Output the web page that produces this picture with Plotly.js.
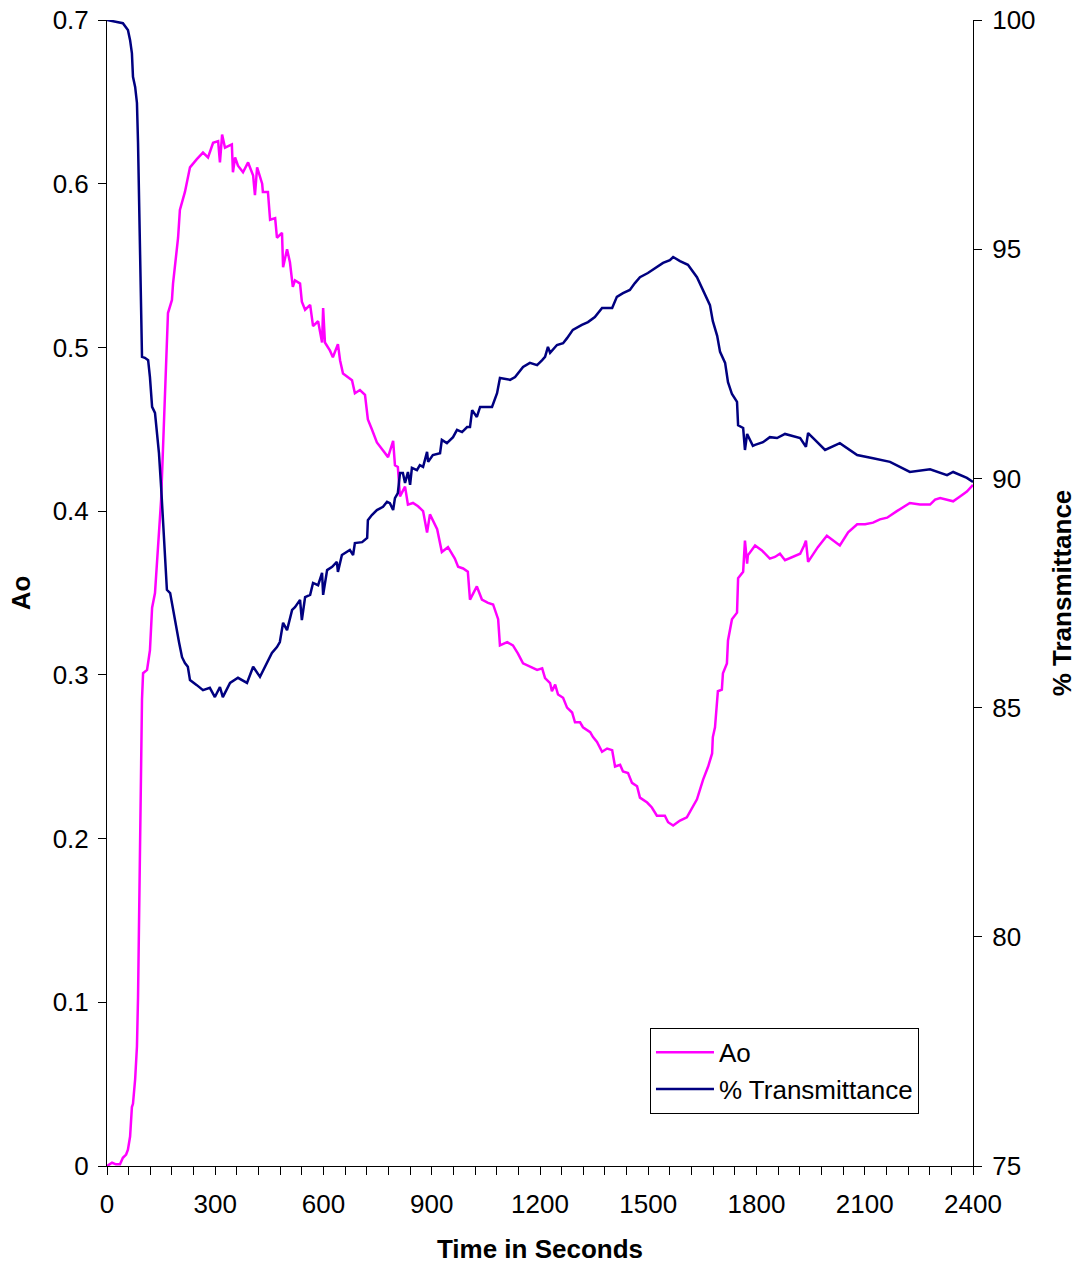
<!DOCTYPE html>
<html>
<head>
<meta charset="utf-8">
<script src="https://cdn.plot.ly/plotly-3.0.1.min.js"></script>
<style>html,body{margin:0;padding:0;background:#fff}#chart{width:1077px;height:1265px}</style>
</head>
<body>
<div id="chart"></div>
<script>
// Time in seconds and Ao values
var aoTime = [
  0, 14, 25, 36, 44, 53, 58, 64, 69, 72,
  78, 83, 86, 89, 91, 94, 97, 100, 111, 119,
  125, 133, 141, 150, 155, 161, 166, 169, 180, 183,
  197, 202, 216, 230, 249, 266, 280, 294, 308, 313,
  319, 327, 346, 349, 355, 363, 377, 391, 405, 410,
  416, 430, 432, 446, 452, 466, 471, 485, 488, 499,
  507, 515, 521, 535, 540, 549, 563, 571, 585, 596,
  599, 604, 618, 626, 640, 646, 654, 668, 679, 687,
  701, 715, 723, 734, 748, 765, 779, 793, 798, 806,
  812, 826, 834, 848, 862, 876, 887, 895, 915, 928,
  945, 964, 973, 987, 1000, 1006, 1025, 1039, 1056, 1070,
  1084, 1089, 1109, 1125, 1139, 1153, 1172, 1192, 1206, 1214,
  1228, 1233, 1242, 1250, 1264, 1275, 1289, 1297, 1311, 1319,
  1339, 1347, 1358, 1372, 1386, 1400, 1408, 1422, 1430, 1444,
  1455, 1469, 1477, 1497, 1510, 1524, 1546, 1555, 1569, 1588,
  1607, 1621, 1635, 1652, 1666, 1677, 1679, 1685, 1693, 1704,
  1707, 1718, 1721, 1732, 1746, 1749, 1763, 1768, 1774, 1776,
  1796, 1815, 1837, 1851, 1865, 1879, 1901, 1921, 1932, 1937,
  1943, 1954, 1970, 1995, 2012, 2031, 2054, 2079, 2101, 2123,
  2142, 2162, 2189, 2225, 2253, 2281, 2295, 2309, 2328, 2345,
  2364, 2383, 2400
];
var aoValue = [
  0, 0.002, 0.001, 0.001, 0.005, 0.007, 0.010, 0.018, 0.036, 0.038,
  0.053, 0.073, 0.103, 0.156, 0.162, 0.224, 0.285, 0.301, 0.303, 0.315,
  0.341, 0.350, 0.374, 0.407, 0.437, 0.476, 0.509, 0.521, 0.529, 0.539,
  0.567, 0.584, 0.595, 0.610, 0.615, 0.619, 0.616, 0.625, 0.626, 0.613,
  0.630, 0.622, 0.624, 0.607, 0.616, 0.611, 0.607, 0.613, 0.605, 0.593,
  0.610, 0.600, 0.595, 0.595, 0.578, 0.579, 0.567, 0.570, 0.549, 0.560,
  0.552, 0.537, 0.541, 0.539, 0.528, 0.523, 0.526, 0.513, 0.516, 0.503,
  0.524, 0.503, 0.498, 0.494, 0.502, 0.492, 0.484, 0.482, 0.480, 0.472,
  0.474, 0.471, 0.456, 0.450, 0.442, 0.437, 0.433, 0.443, 0.428, 0.427,
  0.409, 0.415, 0.404, 0.405, 0.403, 0.400, 0.387, 0.398, 0.389, 0.375,
  0.378, 0.371, 0.366, 0.365, 0.363, 0.346, 0.354, 0.346, 0.344, 0.343,
  0.334, 0.318, 0.320, 0.318, 0.313, 0.307, 0.305, 0.303, 0.304, 0.298,
  0.295, 0.290, 0.294, 0.288, 0.286, 0.280, 0.277, 0.271, 0.271, 0.268,
  0.265, 0.262, 0.259, 0.253, 0.255, 0.254, 0.244, 0.245, 0.241, 0.240,
  0.234, 0.232, 0.225, 0.222, 0.219, 0.214, 0.214, 0.210, 0.208, 0.211,
  0.213, 0.219, 0.224, 0.236, 0.244, 0.252, 0.262, 0.268, 0.290, 0.291,
  0.301, 0.307, 0.321, 0.334, 0.338, 0.359, 0.363, 0.382, 0.368, 0.373,
  0.379, 0.376, 0.371, 0.372, 0.374, 0.370, 0.372, 0.374, 0.379, 0.382,
  0.369, 0.373, 0.378, 0.385, 0.382, 0.379, 0.387, 0.392, 0.392, 0.393,
  0.395, 0.396, 0.400, 0.405, 0.404, 0.404, 0.407, 0.408, 0.407, 0.406,
  0.409, 0.412, 0.416
];

// Time in seconds and % Transmittance values
var tTime = [
  0, 28, 44, 58, 64, 69, 72, 78, 83, 86,
  89, 91, 94, 97, 105, 114, 119, 125, 133, 139,
  144, 150, 155, 161, 166, 175, 183, 188, 194, 200,
  208, 216, 224, 230, 249, 266, 285, 299, 313, 321,
  341, 363, 388, 405, 424, 443, 457, 471, 479, 488,
  499, 513, 521, 535, 540, 549, 563, 571, 585, 596,
  599, 610, 624, 637, 640, 651, 673, 682, 687, 707,
  721, 723, 734, 748, 765, 776, 784, 793, 798, 806,
  812, 820, 826, 834, 840, 845, 859, 867, 876, 887,
  890, 903, 923, 928, 942, 959, 970, 984, 998, 1006,
  1012, 1025, 1034, 1067, 1081, 1089, 1117, 1131, 1153, 1172,
  1192, 1206, 1214, 1222, 1228, 1247, 1264, 1275, 1291, 1316,
  1333, 1352, 1372, 1400, 1413, 1430, 1449, 1463, 1477, 1499,
  1524, 1541, 1560, 1569, 1588, 1610, 1635, 1652, 1671, 1679,
  1691, 1699, 1713, 1721, 1732, 1746, 1749, 1763, 1768, 1774,
  1790, 1796, 1818, 1837, 1857, 1879, 1921, 1937, 1943, 1962,
  1990, 2031, 2079, 2123, 2170, 2225, 2281, 2328, 2345, 2383,
  2400
];
var tValue = [
  100.00, 99.96, 99.93, 99.78, 99.56, 99.28, 98.76, 98.54, 98.19, 97.32,
  95.86, 95.48, 93.67, 92.65, 92.63, 92.58, 92.21, 91.56, 91.43, 90.90,
  90.55, 89.81, 89.09, 88.50, 87.57, 87.50, 87.13, 86.98, 86.63, 86.41,
  86.10, 85.97, 85.89, 85.60, 85.49, 85.38, 85.43, 85.23, 85.45, 85.23,
  85.54, 85.65, 85.54, 85.89, 85.67, 85.97, 86.19, 86.32, 86.43, 86.85,
  86.69, 87.13, 87.19, 87.35, 86.91, 87.41, 87.46, 87.72, 87.67, 87.94,
  87.46, 88.00, 88.07, 88.18, 87.96, 88.33, 88.44, 88.33, 88.59, 88.61,
  88.70, 89.09, 89.20, 89.31, 89.38, 89.49, 89.46, 89.31, 89.57, 89.68,
  90.12, 90.12, 89.90, 90.14, 89.86, 90.23, 90.18, 90.29, 90.25, 90.58,
  90.36, 90.51, 90.55, 90.84, 90.77, 90.90, 91.06, 91.01, 91.12, 91.12,
  91.49, 91.34, 91.56, 91.56, 91.86, 92.19, 92.15, 92.21, 92.43, 92.52,
  92.47, 92.58, 92.65, 92.87, 92.74, 92.91, 92.95, 93.06, 93.24, 93.35,
  93.41, 93.52, 93.72, 93.72, 93.96, 94.04, 94.11, 94.26, 94.39, 94.48,
  94.61, 94.70, 94.76, 94.83, 94.74, 94.66, 94.39, 94.11, 93.78, 93.43,
  93.11, 92.76, 92.52, 92.10, 91.84, 91.67, 91.16, 91.10, 90.62, 90.97,
  90.71, 90.73, 90.79, 90.90, 90.88, 90.97, 90.88, 90.69, 90.99, 90.84,
  90.62, 90.77, 90.51, 90.44, 90.36, 90.14, 90.20, 90.07, 90.14, 90.01,
  89.92
];

var seriesNames = ['Ao', '% Transmittance'];
var xTitle = 'Time in Seconds';
var yTitle = 'Ao';
var y2Title = '% Transmittance';

var FONT = 'Liberation Sans, Arial, sans-serif';

var traces = [
  {x: aoTime, y: aoValue, name: seriesNames[0], type: 'scatter', mode: 'lines',
   line: {color: '#FF00FF', width: 2.5}, xaxis: 'x', yaxis: 'y'},
  {x: tTime, y: tValue, name: seriesNames[1], type: 'scatter', mode: 'lines',
   line: {color: '#000080', width: 2.5}, xaxis: 'x', yaxis: 'y2'}
];

var baseAx = {showgrid: false, zeroline: false, tickcolor: '#000', tickwidth: 1, ticklen: 8, automargin: false};

var layout = {
  width: 1077, height: 1265,
  margin: {l: 107, r: 104, t: 20, b: 99, pad: 0},
  paper_bgcolor: '#fff', plot_bgcolor: '#fff',
  font: {family: FONT, size: 26, color: '#000'},
  hovermode: false,
  showlegend: true,
  legend: {x: 0.627, y: 0.1205, xanchor: 'left', yanchor: 'top',
           bgcolor: '#fff', bordercolor: '#000', borderwidth: 1, itemwidth: 58,
           font: {family: FONT, size: 26, color: '#000'}},
  xaxis: Object.assign({}, baseAx, {
    range: [0, 2400], tickmode: 'linear', tick0: 0, dtick: 300, ticks: 'outside',
    minor: {dtick: 60, tick0: 0, ticks: 'outside', ticklen: 8, tickcolor: '#000', tickwidth: 1, showgrid: false},
    showline: true, linecolor: '#000', linewidth: 1, ticklabelstandoff: 7,
    tickfont: {family: FONT, size: 26, color: '#000'},
    title: {text: xTitle, font: {family: FONT, size: 26, color: '#000', weight: 'bold'}, standoff: 21}
  }),
  xaxis2: Object.assign({}, baseAx, {
    overlaying: 'x', anchor: 'y', side: 'bottom',
    range: [0, 2400], tickmode: 'linear', tick0: 0, dtick: 60, ticks: 'inside',
    showticklabels: false, showline: false
  }),
  yaxis: Object.assign({}, baseAx, {
    range: [0, 0.7], tickmode: 'linear', tick0: 0, dtick: 0.1, ticks: 'outside',
    showline: true, linecolor: '#000', linewidth: 1, ticklabelstandoff: 4,
    tickfont: {family: FONT, size: 26, color: '#000'},
    title: {text: yTitle, font: {family: FONT, size: 26, color: '#000', weight: 'bold'}, standoff: 14}
  }),
  yaxis3: Object.assign({}, baseAx, {
    overlaying: 'y', anchor: 'x', side: 'left',
    range: [0, 0.7], tickmode: 'linear', tick0: 0, dtick: 0.1, ticks: 'inside',
    showticklabels: false, showline: false
  }),
  yaxis2: Object.assign({}, baseAx, {
    overlaying: 'y', anchor: 'x', side: 'right',
    range: [75, 100], tickmode: 'linear', tick0: 75, dtick: 5, ticks: 'outside',
    showline: true, linecolor: '#000', linewidth: 1, ticklabelstandoff: 5,
    tickfont: {family: FONT, size: 26, color: '#000'},
    title: {text: y2Title, font: {family: FONT, size: 26, color: '#000', weight: 'bold'}, standoff: 21}
  }),
  yaxis4: Object.assign({}, baseAx, {
    overlaying: 'y', anchor: 'x', side: 'right',
    range: [75, 100], tickmode: 'linear', tick0: 75, dtick: 5, ticks: 'inside',
    showticklabels: false, showline: false
  })
};

Plotly.newPlot('chart', traces, layout, {displayModeBar: false, staticPlot: true});
</script>
</body>
</html>
